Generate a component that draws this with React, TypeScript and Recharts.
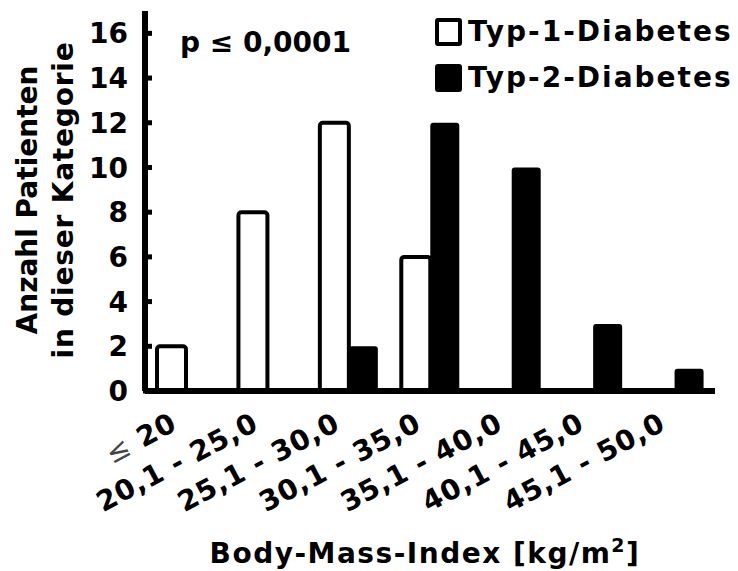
import { BarChart, Bar, XAxis, YAxis } from "recharts";

const CATEGORIES = [
  "≤ 20",
  "20,1 - 25,0",
  "25,1 - 30,0",
  "30,1 - 35,0",
  "35,1 - 40,0",
  "40,1 - 45,0",
  "45,1 - 50,0",
];
const TYP1 = [2, 8, 12, 6, 0, 0, 0];
const TYP2 = [0, 0, 2, 12, 10, 3, 1];
const Y_TICKS = [0, 2, 4, 6, 8, 10, 12, 14, 16];

const SERIES = [
  { key: "typ1", label: "Typ-1-Diabetes", fill: "#fff" },
  { key: "typ2", label: "Typ-2-Diabetes", fill: "#000" },
];

const FONT = "'DejaVu Sans', Verdana, sans-serif";

const data = CATEGORIES.map((bmi, i) => ({ bmi, typ1: TYP1[i], typ2: TYP2[i] }));

function YTick({ x, y, payload }: any) {
  return (
    <g>
      <text x={x} y={y} dy="0.36em" textAnchor="end" fontSize={28} fontWeight="bold" fill="#000" fontFamily={FONT}>
        {payload.value}
      </text>
      <line x1={x + 15} x2={x + 24} y1={y} y2={y} stroke="#000" strokeWidth={5} />
    </g>
  );
}

function XTick({ x, y, payload }: any) {
  const tx = x - 7;
  const ty = y + 38;
  const v: string = payload.value;
  const le = v.startsWith("≤");
  return (
    <text
      x={tx}
      y={ty}
      transform={`rotate(-28, ${tx}, ${ty})`}
      textAnchor="end"
      fontSize={28}
      fontWeight="bold"
      letterSpacing={0.8}
      fill="#000"
      fontFamily={FONT}
    >
      {le ? (
        <>
          <tspan fontWeight="normal" fill="#444">≤</tspan>
          <tspan>{v.slice(1)}</tspan>
        </>
      ) : (
        v
      )}
    </text>
  );
}

function YLabel({ viewBox }: any) {
  const cy = viewBox.y + viewBox.height / 2 - 1;
  return (
    <g fontSize={28} fontWeight="bold" fill="#000" fontFamily={FONT}>
      <text x={37} y={cy} transform={`rotate(-90, 37, ${cy})`} textAnchor="middle">
        Anzahl Patienten
      </text>
      <text x={73} y={cy} transform={`rotate(-90, 73, ${cy})`} textAnchor="middle" letterSpacing={0.8}>
        in dieser Kategorie
      </text>
    </g>
  );
}

function XLabel({ viewBox }: any) {
  const cx = viewBox.x + viewBox.width / 2 - 5;
  const by = viewBox.y + viewBox.height - 8;
  return (
    <text x={cx} y={by} textAnchor="middle" fontSize={28} fontWeight="bold" letterSpacing={1.5} fill="#000" fontFamily={FONT}>
      Body-Mass-Index [kg/m
      <tspan dy={-11} fontSize={19}>2</tspan>
      <tspan dy={11}>]</tspan>
    </text>
  );
}

export default function App() {
  return (
    <div style={{ position: "absolute", left: 0, top: 0, width: 738, height: 571, background: "#fff", fontFamily: FONT }}>
      <BarChart
        width={738}
        height={571}
        data={data}
        margin={{ top: 11, right: 23, left: 0, bottom: 0 }}
        barGap={0}
      >
        {SERIES.map((s) => (
          <Bar
            key={s.key}
            dataKey={s.key}
            name={s.label}
            fill={s.fill}
            stroke="#000"
            strokeWidth={s.fill === "#fff" ? 4 : 0}
            barSize={29}
            radius={[3, 3, 0, 0]}
            isAnimationActive={false}
          />
        ))}
        <XAxis
          dataKey="bmi"
          height={180}
          interval={0}
          tickSize={0}
          tickMargin={0}
          tick={<XTick />}
          axisLine={{ stroke: "#000", strokeWidth: 6 }}
          label={{ content: XLabel }}
        />
        <YAxis
          width={145}
          domain={[0, 17]}
          ticks={Y_TICKS}
          tickSize={0}
          tickMargin={17}
          tickLine={false}
          tick={<YTick />}
          axisLine={{ stroke: "#000", strokeWidth: 6 }}
          label={{ content: YLabel }}
        />
      </BarChart>
      <div style={{ position: "absolute", left: 180, top: 27, fontSize: 28, fontWeight: "bold", lineHeight: "32px", whiteSpace: "nowrap" }}>
        p ≤ 0,0001
      </div>
      {SERIES.map((s, i) => (
        <div
          key={s.key}
          style={{
            position: "absolute",
            left: 435,
            top: 16 + i * 46,
            display: "flex",
            alignItems: "center",
            whiteSpace: "nowrap",
            fontSize: 28,
            fontWeight: "bold",
            letterSpacing: 2,
            lineHeight: "32px",
          }}
        >
          <span
            style={{
              display: "inline-block",
              boxSizing: "border-box",
              width: 27,
              height: 28,
              background: s.fill,
              border: "4px solid #000",
              borderRadius: 3,
              marginRight: 6,
            }}
          />
          {s.label}
        </div>
      ))}
    </div>
  );
}
